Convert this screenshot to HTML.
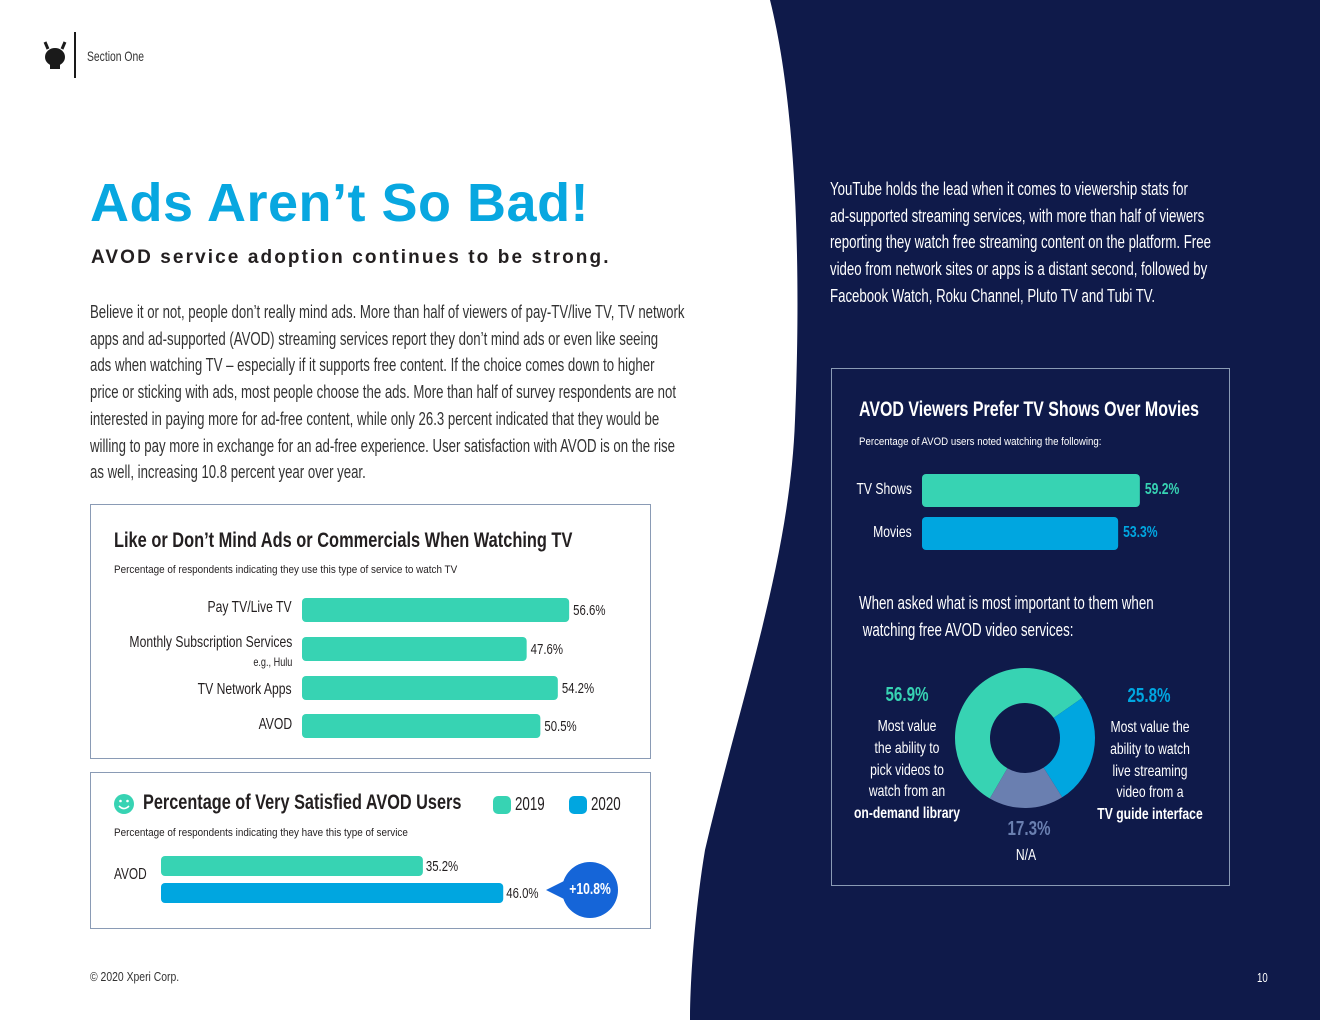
<!DOCTYPE html>
<html><head><meta charset="utf-8">
<style>
*{margin:0;padding:0;box-sizing:border-box}
body{width:1320px;height:1020px;position:relative;overflow:hidden;background:#fff;font-family:"Liberation Sans",sans-serif;color:#231f20}
.a{position:absolute;white-space:nowrap;transform-origin:left top}
.c{transform:scaleX(.74)}
.r{transform:scaleX(.76);transform-origin:right top}
.m{transform:translateX(-50%) scaleX(.76);transform-origin:center top}
svg{position:absolute;left:0;top:0}
</style></head><body>
<svg width="1320" height="1020">
  <path d="M770,0 C800,120 800,300 795,420 C790,560 740,700 705,850 C695,910 690,980 690,1020 L1320,1020 L1320,0 Z" fill="#0f1a4a"/>
  <g fill="#1a1a1a">
    <ellipse cx="55" cy="57" rx="10" ry="9"/><rect x="50" y="64" width="10" height="5"/>
    <line x1="48" y1="49" x2="45" y2="42" stroke="#1a1a1a" stroke-width="3"/><line x1="62" y1="49" x2="65" y2="42" stroke="#1a1a1a" stroke-width="3"/>
  </g>
  <rect x="74" y="32" width="2" height="46" fill="#1a1a1a"/>
  <rect x="90.5" y="504.5" width="560" height="254" fill="none" stroke="#8a9bb5"/>
  <rect x="90.5" y="772.5" width="560" height="156" fill="none" stroke="#8a9bb5"/>
  <rect x="831.5" y="368.5" width="398" height="517" fill="none" stroke="#8a9bb5"/>
  <g id="c1"></g>
  <g id="c2"></g>
  <g id="c3"></g>
  <g id="donut"></g>
  <g>
    <circle cx="124" cy="804" r="10" fill="#37d3b3"/><path d="M119,806 Q124,811 129,806" fill="none" stroke="#fff" stroke-width="1.6"/>
    <circle cx="120.5" cy="801" r="1.3" fill="#fff"/><circle cx="127.5" cy="801" r="1.3" fill="#fff"/>
  </g>
  <rect x="493" y="796" width="18" height="18" rx="5" fill="#37d3b3"/>
  <rect x="569" y="796" width="18" height="18" rx="5" fill="#00a6e0"/>
  <g>
    <path d="M546,890 L566,880 L566,900 Z" fill="#1565d8"/>
    <circle cx="590" cy="890" r="28" fill="#1565d8"/>
    <text transform="translate(590,894) scale(0.76,1)" text-anchor="middle" fill="#fff" font-size="16" font-family="Liberation Sans, sans-serif" font-weight="bold">+10.8%</text>
  </g>
</svg>

<div class="a c" style="left:87px;top:48px;font-size:14px;color:#333">Section One</div>
<div class="a" style="left:90px;top:172px;font-weight:bold;font-size:54px;color:#08a7e0;letter-spacing:0.5px">Ads Aren’t So Bad!</div>
<div class="a" style="left:91px;top:247px;font-weight:bold;font-size:19px;letter-spacing:2.1px">AVOD service adoption continues to be strong.</div>
<div class="a c" style="left:90px;top:299px;font-size:18px;line-height:26.7px;color:#333;transform:scaleX(.733)">Believe it or not, people don’t really mind ads. More than half of viewers of pay-TV/live TV, TV network<br>apps and ad-supported (AVOD) streaming services report they don’t mind ads or even like seeing<br>ads when watching TV – especially if it supports free content. If the choice comes down to higher<br>price or sticking with ads, most people choose the ads. More than half of survey respondents are not<br>interested in paying more for ad-free content, while only 26.3 percent indicated that they would be<br>willing to pay more in exchange for an ad-free experience. User satisfaction with AVOD is on the rise<br>as well, increasing 10.8 percent year over year.</div>

<div class="a" style="left:114px;top:529px;font-size:21px;font-weight:bold;transform:scaleX(.78)">Like or Don’t Mind Ads or Commercials When Watching TV</div>
<div class="a" style="left:114px;top:564px;font-size:11px;transform:scaleX(.9)">Percentage of respondents indicating they use this type of service to watch TV</div>
<div class="a r" style="right:1028px;top:599px;font-size:16px">Pay TV/Live TV</div>
<div class="a r" style="right:1028px;top:634px;font-size:16px">Monthly Subscription Services</div>
<div class="a r" style="right:1028px;top:655px;font-size:12px">e.g., Hulu</div>
<div class="a r" style="right:1028px;top:681px;font-size:16px">TV Network Apps</div>
<div class="a r" style="right:1028px;top:716px;font-size:16px">AVOD</div>

<div class="a" style="left:143px;top:791px;font-size:21px;font-weight:bold;transform:scaleX(.775)">Percentage of Very Satisfied AVOD Users</div>
<div class="a c" style="left:515px;top:794px;font-size:18px">2019</div>
<div class="a c" style="left:591px;top:794px;font-size:18px">2020</div>
<div class="a" style="left:114px;top:827px;font-size:11px;transform:scaleX(.9)">Percentage of respondents indicating they have this type of service</div>
<div class="a c" style="left:114px;top:866px;font-size:16px">AVOD</div>

<div class="a" style="left:830px;top:176px;font-size:18px;line-height:26.7px;color:#fff;transform:scaleX(.735)">YouTube holds the lead when it comes to viewership stats for<br>ad-supported streaming services, with more than half of viewers<br>reporting they watch free streaming content on the platform. Free<br>video from network sites or apps is a distant second, followed by<br>Facebook Watch, Roku Channel, Pluto TV and Tubi TV.</div>

<div class="a" style="left:859px;top:398px;font-size:21px;font-weight:bold;color:#fff;transform:scaleX(.76)">AVOD Viewers Prefer TV Shows Over Movies</div>
<div class="a" style="left:859px;top:436px;font-size:11px;color:#fff;transform:scaleX(.88)">Percentage of AVOD users noted watching the following:</div>
<div class="a r" style="right:408px;top:481px;font-size:16px;color:#fff">TV Shows</div>
<div class="a r" style="right:408px;top:524px;font-size:16px;color:#fff">Movies</div>
<div class="a c" style="left:859px;top:590px;font-size:18px;line-height:26.7px;color:#fff">When asked what is most important to them when<br>&nbsp;watching free AVOD video services:</div>

<div class="a m" style="left:907px;top:684px;font-size:20px;font-weight:bold;color:#37d3b3">56.9%</div>
<div class="a m" style="left:907px;top:716px;font-size:16px;line-height:21.8px;color:#fff;text-align:center">Most value<br>the ability to<br>pick videos to<br>watch from an<br><b>on-demand library</b></div>
<div class="a m" style="left:1149px;top:685px;font-size:20px;font-weight:bold;color:#00a6e0">25.8%</div>
<div class="a m" style="left:1150px;top:717px;font-size:16px;line-height:21.8px;color:#fff;text-align:center">Most value the<br>ability to watch<br>live streaming<br>video from a<br><b>TV guide interface</b></div>
<div class="a m" style="left:1029px;top:818px;font-size:20px;font-weight:bold;color:#6a7fb0">17.3%</div>
<div class="a m" style="left:1026px;top:847px;font-size:16px;color:#fff">N/A</div>

<div class="a" style="left:90px;top:969px;font-size:13px;color:#333;transform:scaleX(.8)">© 2020 Xperi Corp.</div>
<div class="a c" style="left:1257px;top:970px;font-size:13px;color:#fff">10</div>

<script>
const c1Cats=["Pay TV/Live TV","Monthly Subscription Services","TV Network Apps","AVOD"];
const c1Vals=[56.6,47.6,54.2,50.5];
const c2Series=["2019","2020"];
const c2Vals=[35.2,46.0];
const c3Cats=["TV Shows","Movies"];
const c3Vals=[59.2,53.3];
const donutCats=["On-demand library","TV guide interface","N/A"];
const donutVals=[56.9,25.8,17.3];

const NS="http://www.w3.org/2000/svg";
function mk(tag,attrs,parent){const e=document.createElementNS(NS,tag);for(const k in attrs)e.setAttribute(k,attrs[k]);parent.appendChild(e);return e;}
const FF="Liberation Sans, sans-serif";

const x1=v=>302+v*4.72; const y1c=[598,637,676,714];
const g1=document.getElementById('c1');
c1Vals.forEach((v,i)=>{
  const r=mk('rect',{x:302,y:y1c[i],width:x1(v)-302,height:24,rx:4,fill:'#37d3b3'},g1);
  
  
  const t=mk('text',{transform:`translate(${x1(v)+4},${y1c[i]+17}) scale(0.76,1)`,'font-size':15,'font-family':FF,fill:'#231f20'},g1);
  t.textContent=v.toFixed(1)+'%';
  
  
});
const x2=v=>161+v*7.44; const y2=[856,883]; const col2=['#37d3b3','#00a6e0'];
const g2=document.getElementById('c2');
c2Vals.forEach((v,i)=>{
  const r=mk('rect',{x:161,y:y2[i],width:x2(v)-161,height:20,rx:4,fill:col2[i]},g2);
  
  
  const t=mk('text',{transform:`translate(${x2(v)+3},${y2[i]+15}) scale(0.76,1)`,'font-size':15,'font-family':FF,fill:'#231f20'},g2);
  t.textContent=v.toFixed(1)+'%';
  
  
});
const x3=v=>922+v*3.68; const y3=[474,517]; const col3=['#37d3b3','#00a6e0'];
const g3=document.getElementById('c3');
c3Vals.forEach((v,i)=>{
  const r=mk('rect',{x:922,y:y3[i],width:x3(v)-922,height:33,rx:4,fill:col3[i]},g3);
  
  
  const t=mk('text',{transform:`translate(${x3(v)+5},${y3[i]+20}) scale(0.76,1)`,'font-size':16,'font-weight':'bold','font-family':FF,fill:col3[i]},g3);
  t.textContent=v.toFixed(1)+'%';
  
  
});
const gd=document.getElementById('donut'); const cx=1025,cy=738,R=70,r0=35; const dcol=['#37d3b3','#00a6e0','#6a7fb0'];
const tot=donutVals.reduce((a,b)=>a+b,0); let ang=55-donutVals[0]/tot*360;
donutVals.forEach((v,i)=>{
  const a0=ang, a1=ang+v/tot*360; ang=a1;
  const p=(a,rr)=>[cx+rr*Math.sin(a*Math.PI/180),cy-rr*Math.cos(a*Math.PI/180)];
  const lg=(a1-a0)>180?1:0;
  const [ax,ay]=p(a0,R),[bx,by]=p(a1,R),[cx1,cy1]=p(a1,r0),[dx,dy]=p(a0,r0);
  const s=mk('path',{d:`M${ax},${ay} A${R},${R} 0 ${lg} 1 ${bx},${by} L${cx1},${cy1} A${r0},${r0} 0 ${lg} 0 ${dx},${dy} Z`,fill:dcol[i]},gd);
  
  
});
</script>
</body></html>
